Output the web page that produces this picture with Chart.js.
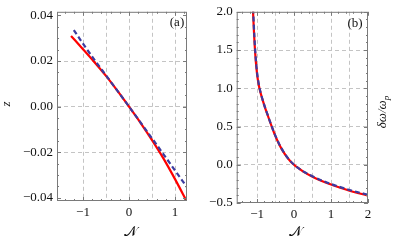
<!DOCTYPE html>
<html><head><meta charset="utf-8">
<script src="https://cdn.jsdelivr.net/npm/chart.js@4.4.0/dist/chart.umd.min.js"></script>
<style>
html,body{margin:0;padding:0;background:#fff;}
#wrap{position:relative;width:399px;height:243px;overflow:hidden;background:#fff;}
canvas{position:absolute;top:0;}
</style></head><body>
<div id="wrap">
<canvas id="ca" width="200" height="243" style="left:0"></canvas>
<canvas id="cb" width="199" height="243" style="left:200px"></canvas>
</div>
<script>
// ---------- Panel (a) data ----------
const aNRed  = [-1.26, -1.0, -0.75, -0.5, -0.25, 0, 0.25, 0.5, 0.75, 1.0, 1.26];
const aZRed  = [0.0310, 0.0252, 0.0195, 0.0135, 0.0069, 0.0, -0.0071, -0.0147, -0.0228, -0.0318, -0.0418];
const aNBlue = [-1.2, -1.0, -0.75, -0.5, -0.25, 0, 0.25, 0.5, 0.75, 1.0, 1.26];
const aZBlue = [0.0336, 0.0276, 0.0205, 0.0137, 0.0069, 0, -0.0069, -0.0139, -0.0209, -0.0280, -0.0353];
const aXTicks = [-1, -0.5, 0, 0.5, 1];
const aYTicks = [-0.04, -0.02, 0, 0.02, 0.04];
// ---------- Panel (b) data ----------
const bNRed  = [-1.12, -1.1, -1.05, -1.0, -0.95, -0.9, -0.8, -0.7, -0.6, -0.5, -0.4, -0.3, -0.2, -0.1, 0, 0.1, 0.25, 0.5, 0.75, 1.0, 1.25, 1.5, 1.75, 2.0];
const bYRed  = [2.15, 1.909, 1.459, 1.189, 1.034, 0.931, 0.771, 0.631, 0.496, 0.371, 0.266, 0.178, 0.106, 0.047, 0, -0.039, -0.089, -0.156, -0.211, -0.259, -0.301, -0.339, -0.372, -0.403];
const bNBlue = [-1.115, -1.095, -1.045, -0.995, -0.945, -0.895, -0.8, -0.7, -0.6, -0.5, -0.4, -0.3, -0.2, -0.1, 0, 0.1, 0.25, 0.5, 0.75, 1.0, 1.25, 1.5, 1.75, 2.0];
const bYBlue = [2.15, 1.909, 1.459, 1.189, 1.034, 0.931, 0.773, 0.634, 0.499, 0.374, 0.269, 0.181, 0.108, 0.049, 0.001, -0.037, -0.086, -0.151, -0.205, -0.252, -0.292, -0.330, -0.362, -0.392];
const bXTicks = [-1, -0.5, 0, 0.5, 1, 1.5, 2];
const bYTicks = [-0.5, 0, 0.5, 1, 1.5, 2];

const SERIF = "'Liberation Serif','Times New Roman',serif";
const RED = '#ff0000', BLUE = '#3c3ca0', GRID = '#c4c4c4', FRAME = '#7a7a7a';
const minus = s => String(s).replace('-', '\u2212');
const pts = (xs, ys) => xs.map((x, i) => ({x: x, y: ys[i]}));

function frameTicks(xMajor, xMinorStep, yMajor, yMinorStep) {
  return {
    id: 'frameTicks',
    afterDatasetsDraw(chart) {
      const {ctx, chartArea: a, scales} = chart;
      const xs = scales.x, ys = scales.y;
      ctx.save();
      ctx.strokeStyle = FRAME; ctx.lineWidth = 1;
      ctx.strokeRect(a.left + 0.5, a.top + 0.5, a.right - a.left - 1, a.bottom - a.top - 1);
      const near = (v, arr) => arr.some(m => Math.abs(m - v) < 1e-9);
      ctx.beginPath();
      for (let v = Math.ceil(xs.min / xMinorStep) * xMinorStep; v <= xs.max + 1e-9; v += xMinorStep) {
        const vv = Math.round(v / xMinorStep) * xMinorStep;
        const L = near(vv, xMajor) ? 4 : 2;
        const p = Math.round(xs.getPixelForValue(vv)) + 0.5;
        ctx.moveTo(p, a.bottom); ctx.lineTo(p, a.bottom - L);
        ctx.moveTo(p, a.top); ctx.lineTo(p, a.top + L);
      }
      for (let v = Math.ceil(ys.min / yMinorStep) * yMinorStep; v <= ys.max + 1e-9; v += yMinorStep) {
        const vv = Math.round(v / yMinorStep) * yMinorStep;
        const L = near(vv, yMajor) ? 4 : 2;
        const p = Math.round(ys.getPixelForValue(vv)) + 0.5;
        ctx.moveTo(a.left, p); ctx.lineTo(a.left + L, p);
        ctx.moveTo(a.right, p); ctx.lineTo(a.right - L, p);
      }
      ctx.stroke();
      ctx.restore();
    }
  };
}

function labels(items) {
  return {
    id: 'labels',
    afterDraw(chart) {
      const ctx = chart.ctx;
      ctx.save();
      ctx.fillStyle = '#111';
      ctx.textAlign = 'center'; ctx.textBaseline = 'middle';
      items.forEach(it => {
        ctx.save();
        ctx.translate(it.x, it.y);
        if (it.rot) ctx.rotate(it.rot);
        ctx.font = it.font;
        if (it.sub) {
          const w1 = ctx.measureText(it.text).width;
          ctx.font = it.subFont;
          const w2 = ctx.measureText(it.sub).width;
          const st = -(w1 + w2) / 2;
          ctx.textAlign = 'left';
          ctx.font = it.font;
          ctx.fillText(it.text, st, 0);
          ctx.font = it.subFont;
          ctx.fillText(it.sub, st + w1, 4);
        } else {
          ctx.fillText(it.text, 0, 0);
        }
        ctx.restore();
      });
      ctx.restore();
    }
  };
}

function makeChart(id, cfg) {
  const fixW = cfg.yWidth, fixH = cfg.xHeight;
  return new Chart(document.getElementById(id), {
    type: 'scatter',
    data: {
      datasets: [
        {data: pts(cfg.nBlue, cfg.yBlue), showLine: true, borderColor: BLUE, borderWidth: 2.2,
         borderDash: [5, 3], pointRadius: 0, cubicInterpolationMode: 'monotone', fill: false},
        {data: pts(cfg.nRed, cfg.yRed), showLine: true, borderColor: RED, borderWidth: 2.2,
         pointRadius: 0, cubicInterpolationMode: 'monotone', fill: false}
      ]
    },
    options: {
      responsive: false, animation: false,
      layout: {padding: cfg.padding},
      plugins: {legend: {display: false}, tooltip: {enabled: false}},
      scales: {
        x: {
          type: 'linear', min: cfg.xMin, max: cfg.xMax,
          afterBuildTicks: s => { s.ticks = cfg.xTicks.map(v => ({value: v})); },
          afterFit: s => { s.height = fixH; },
          ticks: {padding: 4, autoSkip: false, maxRotation: 0, color: '#111',
                  font: {family: SERIF, size: 13},
                  callback: v => Number.isInteger(v) ? minus(v) : ''},
          grid: {drawTicks: false, color: ctx => cfg.xGridOk(ctx.tick.value) ? GRID : 'rgba(0,0,0,0)', lineWidth: 1},
          border: {display: false, dash: [4, 3]}
        },
        y: {
          type: 'linear', min: cfg.yMin, max: cfg.yMax,
          afterBuildTicks: s => { s.ticks = cfg.yTicks.map(v => ({value: v})); },
          afterFit: s => { s.width = fixW; },
          ticks: {padding: 4, autoSkip: false, color: '#111', font: {family: SERIF, size: 13},
                  callback: v => minus(v.toFixed(cfg.yDec))},
          grid: {drawTicks: false, color: ctx => cfg.yGridOk(ctx.tick.value) ? GRID : 'rgba(0,0,0,0)', lineWidth: 1},
          border: {display: false, dash: [4, 3]}
        }
      }
    },
    plugins: [frameTicks(cfg.xMajor, cfg.xMinor, cfg.yTicks, cfg.yMinor), labels(cfg.labels)]
  });
}

makeChart('ca', {
  nRed: aNRed, yRed: aZRed, nBlue: aNBlue, yBlue: aZBlue,
  xMin: -1.565, xMax: 1.26, yMin: -0.0414, yMax: 0.0416,
  xTicks: aXTicks, yTicks: aYTicks, yDec: 2,
  xGridOk: v => true, yGridOk: v => Math.abs(v) < 0.03,
  xMajor: [-1, 0, 1], xMinor: 0.2, yMinor: 0.005,
  yWidth: 57, xHeight: 42, padding: {left: 0, right: 13, top: 7, bottom: 0},
  labels: [
    {text: 'z', x: 7, y: 104, rot: -Math.PI / 2, font: 'italic 13px ' + SERIF},
    {text: '(a)', x: 177, y: 23, font: '13px ' + SERIF},
    {text: '\u{1D4A9}', x: 130, y: 232, font: '14px ' + SERIF}
  ]
});

makeChart('cb', {
  nRed: bNRed, yRed: bYRed, nBlue: bNBlue, yBlue: bYBlue,
  xMin: -1.55, xMax: 2, yMin: -0.5, yMax: 2,
  xTicks: bXTicks, yTicks: bYTicks, yDec: 1,
  xGridOk: v => v < 1.9, yGridOk: v => v > -0.4 && v < 1.9,
  xMajor: [-1, 0, 1, 2], xMinor: 0.2, yMinor: 0.1,
  yWidth: 36.7, xHeight: 40, padding: {left: 0, right: 31, top: 9, bottom: 0},
  labels: [
    {text: 'δω/ω', sub: 'p', x: 182.7, y: 112, rot: -Math.PI / 2, font: 'italic 13px ' + SERIF, subFont: 'italic 9px ' + SERIF},
    {text: '(b)', x: 155, y: 24, font: '13px ' + SERIF},
    {text: '\u{1D4A9}', x: 95, y: 232, font: '14px ' + SERIF}
  ]
});
</script>
</body></html>
